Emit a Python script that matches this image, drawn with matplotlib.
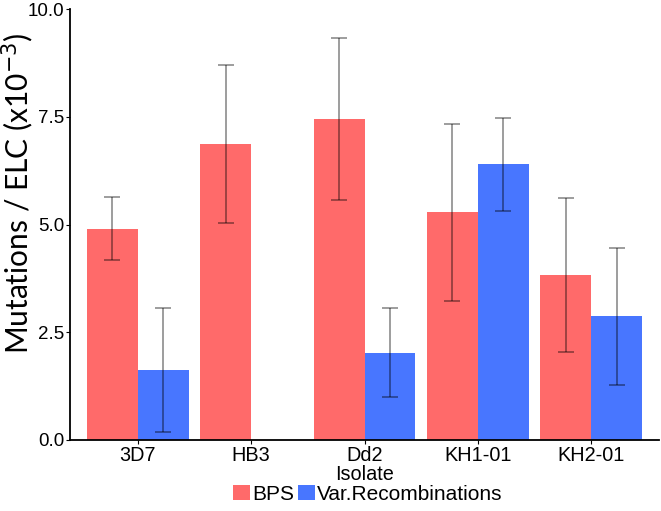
import matplotlib
matplotlib.use('Agg')
import matplotlib.pyplot as plt
import numpy as np
from matplotlib.patches import Patch

matplotlib.rc('font', family=['Liberation Sans', 'DejaVu Sans'])

isolates = ['3D7', 'HB3', 'Dd2', 'KH1-01', 'KH2-01']
bps = [4.90, 6.87, 7.45, 5.28, 3.83]
bps_err = [0.73, 1.83, 1.87, 2.05, 1.79]
var_rec = [1.62, np.nan, 2.03, 6.40, 2.87]
var_err = [1.44, np.nan, 1.04, 1.08, 1.59]

series = ['BPS', 'Var.Recombinations']
colours = ['#FF6A6A', '#4876FF']

fig = plt.figure(figsize=(6.61, 5.11), dpi=100)
ax = fig.add_axes([70/661, 1-440/511, 589/661, 431/511])

x = np.arange(1, len(isolates)+1)
w = 0.45
for i, (vals, errs) in enumerate([(bps, bps_err), (var_rec, var_err)]):
    xs = x + (i-0.5)*w
    ax.bar(xs, vals, width=w, color=colours[i], edgecolor='none')
    ax.errorbar(xs, vals, yerr=errs, fmt='none', ecolor='black', alpha=0.45,
                elinewidth=1.2, capsize=6, capthick=1.2)

ax.set_xlim(0.4, 5.6)
ax.set_ylim(0, 10)
ax.set_yticks([0, 2.5, 5.0, 7.5, 10.0])
ax.set_yticklabels(['0.0', '2.5', '5.0', '7.5', '10.0'])
ax.set_xticks(x)
ax.set_xticklabels(isolates)
ax.tick_params(axis='y', labelsize=13.5, length=3, width=0.8, pad=1)
ax.tick_params(axis='x', labelsize=14.3, length=3, width=0.8, pad=1)
for s in ['top', 'right']:
    ax.spines[s].set_visible(False)
for s in ['left', 'bottom']:
    ax.spines[s].set_linewidth(1.3)

ax.set_ylabel('Mutations / ELC (x10$^{-3}$)', fontsize=21.5, family='Lato')
ax.yaxis.set_label_coords(-0.058, 0.573)
ax.set_xlabel('Isolate', fontsize=14.3, labelpad=0)

handles = [Patch(facecolor=c, edgecolor='none') for c in colours]
fig.legend(handles, series, loc='center', bbox_to_anchor=(368/661, 1-494/511),
           ncol=2, frameon=False, fontsize=15, handlelength=0.8, handleheight=0.75,
           handletextpad=0.1, columnspacing=0.2, borderpad=0)

fig.savefig('out.png', dpi=100)
